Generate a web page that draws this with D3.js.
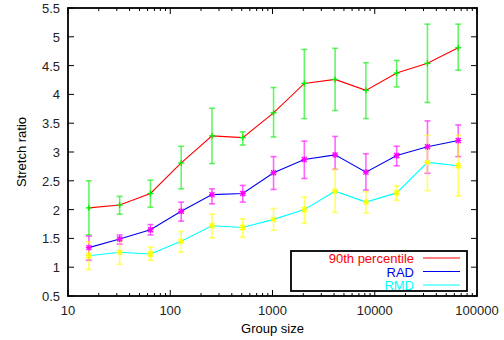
<!DOCTYPE html>
<html>
<head>
<meta charset="utf-8">
<script src="https://cdn.jsdelivr.net/npm/d3@7"></script>
<style>
  body { margin: 0; background: #fff; }
  svg { display: block; font-family: "Liberation Sans", Arial, sans-serif; }
</style>
</head>
<body>
<script>
// group sizes on the x axis
const groupSizes = [16, 32, 64, 128, 256, 512, 1024, 2048, 4096, 8192, 16384, 32768, 65536];

// 90th percentile, with error range
const p90 = [2.03, 2.08, 2.28, 2.81, 3.28, 3.25, 3.68, 4.19, 4.26, 4.07, 4.37, 4.54, 4.81];
const p90Lo = [1.56, 1.92, 2.04, 2.36, 2.80, 3.12, 3.26, 3.58, 3.72, 3.58, 4.13, 3.86, 4.42];
const p90Hi = [2.50, 2.23, 2.51, 3.10, 3.76, 3.35, 4.12, 4.78, 4.80, 4.55, 4.59, 5.22, 5.22];

// RAD
const rad = [1.34, 1.49, 1.65, 1.97, 2.26, 2.28, 2.64, 2.87, 2.95, 2.65, 2.94, 3.09, 3.20];
const radLo = [1.12, 1.40, 1.56, 1.80, 2.10, 2.13, 2.35, 2.54, 2.70, 2.34, 2.76, 2.63, 2.92];
const radHi = [1.54, 1.56, 1.74, 2.13, 2.36, 2.42, 2.92, 3.19, 3.27, 2.97, 3.10, 3.54, 3.47];

// RMD
const rmd = [1.20, 1.26, 1.23, 1.45, 1.72, 1.69, 1.83, 2.00, 2.32, 2.13, 2.29, 2.82, 2.76];
const rmdLo = [0.96, 1.05, 1.12, 1.26, 1.51, 1.52, 1.64, 1.76, 1.95, 1.94, 2.16, 2.33, 2.24];
const rmdHi = [1.44, 1.47, 1.35, 1.62, 1.92, 1.84, 2.02, 2.22, 2.70, 2.31, 2.41, 3.29, 3.29];

const xTicks = [10, 100, 1000, 10000, 100000];
const yTicks = [0.5, 1, 1.5, 2, 2.5, 3, 3.5, 4, 4.5, 5, 5.5];

const series = [
    {name: "90th percentile", mid: p90, lo: p90Lo, hi: p90Hi, line: "#ff0000", bar: "#00ee00", text: "#ff0000"},
    {name: "RAD", mid: rad, lo: radLo, hi: radHi, line: "#0000ee", bar: "#ff00ff", text: "#0000ee"},
    {name: "RMD", mid: rmd, lo: rmdLo, hi: rmdHi, line: "#00ffff", bar: "#ffff00", text: "#00ffff"}
];

const width = 504, height = 340;
const margin = {top: 8, right: 27, bottom: 44, left: 68};

const svg = d3.select("body").append("svg")
    .attr("width", width)
    .attr("height", height);

const x = d3.scaleLog().domain([10, 100000]).range([margin.left, width - margin.right]);
const y = d3.scaleLinear().domain([0.5, 5.5]).range([height - margin.bottom, margin.top]);

const x0 = x.range()[0], x1 = x.range()[1];
const y0 = y.range()[0], y1 = y.range()[1];

// ticks, all pointing inward, mirrored on both sides
const tickG = svg.append("g").attr("stroke", "#000").attr("stroke-width", 1);
const minor = [];
for (let d = 10; d < 100000; d *= 10) {
    for (let k = 2; k < 10; k++) minor.push(d * k);
}
minor.forEach(v => {
    tickG.append("line").attr("x1", x(v)).attr("x2", x(v)).attr("y1", y0).attr("y2", y0 - 3);
    tickG.append("line").attr("x1", x(v)).attr("x2", x(v)).attr("y1", y1).attr("y2", y1 + 3);
});
xTicks.forEach(v => {
    tickG.append("line").attr("x1", x(v)).attr("x2", x(v)).attr("y1", y0).attr("y2", y0 - 6);
    tickG.append("line").attr("x1", x(v)).attr("x2", x(v)).attr("y1", y1).attr("y2", y1 + 6);
});
yTicks.forEach(v => {
    tickG.append("line").attr("x1", x0).attr("x2", x0 + 6).attr("y1", y(v)).attr("y2", y(v));
    tickG.append("line").attr("x1", x1).attr("x2", x1 - 6).attr("y1", y(v)).attr("y2", y(v));
});

// tick labels
svg.append("g").selectAll("text").data(xTicks).join("text")
    .attr("x", d => x(d))
    .attr("y", y0 + 19)
    .attr("text-anchor", "middle")
    .attr("font-size", 13)
    .attr("fill", "#222")
    .text(d => d);

svg.append("g").selectAll("text").data(yTicks).join("text")
    .attr("x", x0 - 8)
    .attr("y", d => y(d) + 5)
    .attr("text-anchor", "end")
    .attr("font-size", 13)
    .attr("fill", "#222")
    .text(d => d);

// axis titles
svg.append("text")
    .attr("x", (x0 + x1) / 2)
    .attr("y", 333)
    .attr("text-anchor", "middle")
    .attr("font-size", 13)
    .text("Group size");

svg.append("text")
    .attr("transform", `translate(26,${(y0 + y1) / 2}) rotate(-90)`)
    .attr("text-anchor", "middle")
    .attr("font-size", 13)
    .text("Stretch ratio");

const plot = svg.append("g");

// error bars first, semi transparent so overlaps blend
series.forEach(s => {
    const g = plot.append("g")
        .attr("stroke", s.bar)
        .attr("stroke-width", 1.6)
        .attr("stroke-opacity", 0.6);
    groupSizes.forEach((gs, i) => {
        const cx = x(gs);
        g.append("line").attr("x1", cx).attr("x2", cx).attr("y1", y(s.lo[i])).attr("y2", y(s.hi[i]));
        g.append("line").attr("x1", cx - 3).attr("x2", cx + 3).attr("y1", y(s.lo[i])).attr("y2", y(s.lo[i]));
        g.append("line").attr("x1", cx - 3).attr("x2", cx + 3).attr("y1", y(s.hi[i])).attr("y2", y(s.hi[i]));
    });
});

const line = d3.line()
    .x((d, i) => x(groupSizes[i]))
    .y(d => y(d));

series.forEach(s => {
    plot.append("path")
        .datum(s.mid)
        .attr("fill", "none")
        .attr("stroke", s.line)
        .attr("stroke-width", 1.1)
        .attr("d", line);

    // small point markers in the bar colour
    const m = plot.append("g").attr("stroke", s.bar).attr("stroke-width", 1.3);
    groupSizes.forEach((gs, i) => {
        const cx = x(gs), cy = y(s.mid[i]);
        m.append("line").attr("x1", cx - 3).attr("x2", cx + 3).attr("y1", cy).attr("y2", cy);
        m.append("line").attr("x1", cx).attr("x2", cx).attr("y1", cy - 3).attr("y2", cy + 3);
        if (s.name !== "90th percentile") {
            m.append("line").attr("x1", cx - 2.5).attr("x2", cx + 2.5).attr("y1", cy - 2.5).attr("y2", cy + 2.5);
            m.append("line").attr("x1", cx - 2.5).attr("x2", cx + 2.5).attr("y1", cy + 2.5).attr("y2", cy - 2.5);
        }
    });
});

// frame
svg.append("rect")
    .attr("x", x0).attr("y", y1)
    .attr("width", x1 - x0).attr("height", y0 - y1)
    .attr("fill", "none")
    .attr("stroke", "#000")
    .attr("stroke-width", 1.8);

// legend
const legend = svg.append("g");
legend.append("rect")
    .attr("x", 291).attr("y", 251)
    .attr("width", 176).attr("height", 40)
    .attr("fill", "#fff")
    .attr("stroke", "#000")
    .attr("stroke-width", 1.8);

series.forEach((s, i) => {
    const ly = 258 + i * 13.5;
    legend.append("text")
        .attr("x", 414)
        .attr("y", ly + 5)
        .attr("text-anchor", "end")
        .attr("font-size", 13)
        .attr("fill", s.text)
        .text(s.name);
    legend.append("line")
        .attr("x1", 423).attr("x2", 460)
        .attr("y1", ly).attr("y2", ly)
        .attr("stroke", s.line)
        .attr("stroke-width", 1.1);
});
</script>
</body>
</html>
